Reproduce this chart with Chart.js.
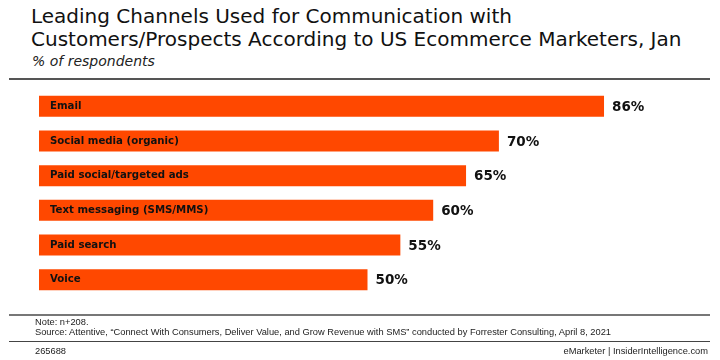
<!DOCTYPE html>
<html lang="en">
<head>
<meta charset="UTF-8" />
<title>Leading Channels Used for Communication with Customers/Prospects</title>
<script src="https://cdn.jsdelivr.net/npm/chart.js@4.4.1/dist/chart.umd.min.js"></script>
<style>
  html, body { margin:0; padding:0; background:#fff; }
  #wrap { position:relative; width:720px; height:360px; overflow:hidden; }
  #chart { position:absolute; left:0; top:0; }
  .t { position:absolute; white-space:nowrap; color:#111; }
  #title { left:31px; top:5px; font:20px/23px "DejaVu Sans", sans-serif; }
  #sub { left:32px; top:53px; font:italic 14px "DejaVu Sans", sans-serif; color:#222; }
  .rule { position:absolute; left:9px; width:701px; }
  .foot { font:9.3px "Liberation Sans", Arial, sans-serif; color:#222; }
</style>
</head>
<body>
<div id="wrap">
  <div class="t" id="title">Leading Channels Used for Communication with<br>Customers/Prospects According to US Ecommerce Marketers, Jan</div>
  <div class="t" id="sub">% of respondents</div>
  <div class="rule" style="top:78px;height:2px;background:#555;"></div>
  <canvas id="chart" width="720" height="360"></canvas>
  <div class="rule" style="top:314px;height:2px;background:#777;"></div>
  <div class="t foot" style="left:35px;top:317px;">Note: n+208.</div>
  <div class="t foot" style="left:35px;top:327px;">Source: Attentive, “Connect With Consumers, Deliver Value, and Grow Revenue with SMS” conducted by Forrester Consulting, April 8, 2021</div>
  <div class="rule" style="top:341px;height:1px;background:#444;"></div>
  <div class="t foot" style="left:35px;top:346px;">265688</div>
  <div class="t foot" style="right:12px;top:346px;">eMarketer | InsiderIntelligence.com</div>
</div>
<script>
// data
const channels = ['Email', 'Social media (organic)', 'Paid social/targeted ads', 'Text messaging (SMS/MMS)', 'Paid search', 'Voice'];
const shares = [86, 70, 65, 60, 55, 50];
const barColor = '#ff4800';

// draw category names inside the bars and the values after them
const barLabels = {
  id: 'barLabels',
  afterDatasetsDraw(chart) {
    const ctx = chart.ctx;
    const meta = chart.getDatasetMeta(0);
    const left = chart.chartArea.left;
    ctx.save();
    ctx.textBaseline = 'middle';
    meta.data.forEach((bar, i) => {
      ctx.fillStyle = '#111';
      ctx.font = 'bold 10.2px "DejaVu Sans", sans-serif';
      ctx.textAlign = 'left';
      ctx.fillText(channels[i], left + 11, bar.y);
      ctx.font = 'bold 13.5px "DejaVu Sans", sans-serif';
      ctx.fillText(shares[i] + '%', bar.x + 8, bar.y + 1);
    });
    ctx.restore();
  }
};

new Chart(document.getElementById('chart'), {
  type: 'bar',
  data: {
    labels: channels,
    datasets: [{
      data: shares,
      backgroundColor: barColor,
      borderWidth: 0,
      barPercentage: 1,
      categoryPercentage: 0.606
    }]
  },
  options: {
    indexAxis: 'y',
    responsive: false,
    animation: false,
    layout: { padding: { left: 39, right: 24, top: 89, bottom: 63 } },
    scales: {
      x: { display: false, min: 0, max: 100 },
      y: { display: false }
    },
    plugins: { legend: { display: false }, tooltip: { enabled: false } }
  },
  plugins: [barLabels]
});
</script>
</body>
</html>
